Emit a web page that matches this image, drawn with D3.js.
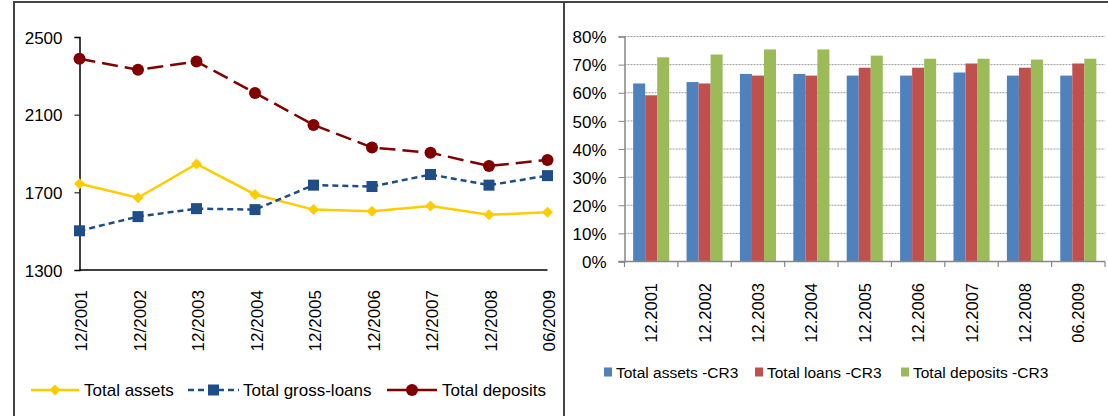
<!DOCTYPE html>
<html>
<head>
<script src="https://d3js.org/d3.v7.min.js"></script>
<style>
  body { margin: 0; background: #fff; }
  svg { display: block; font-family: "Liberation Sans", Arial, sans-serif; }
</style>
</head>
<body>
<svg id="chart" width="1108" height="416"></svg>
<script>
// line chart data (left)
const lineDates = ['12/2001', '12/2002', '12/2003', '12/2004', '12/2005', '12/2006', '12/2007', '12/2008', '06/2009'];
const totalAssets = [1744, 1672, 1846, 1689, 1611, 1602, 1630, 1584, 1597];
const totalGrossLoans = [1502, 1575, 1616, 1611, 1737, 1730, 1792, 1737, 1786];
const totalDeposits = [2388, 2331, 2374, 2212, 2047, 1931, 1904, 1836, 1867];
const lineTicks = [1300, 1700, 2100, 2500];

// bar chart data (right)
const barDates = ['12.2001', '12.2002', '12.2003', '12.2004', '12.2005', '12.2006', '12.2007', '12.2008', '06.2009'];
const assetsCR3 = [63.3, 63.8, 66.7, 66.7, 66.1, 66.1, 67.2, 66.1, 66.1];
const loansCR3 = [59.1, 63.3, 66.1, 66.1, 68.9, 68.9, 70.4, 68.9, 70.4];
const depositsCR3 = [72.6, 73.6, 75.4, 75.4, 73.2, 72.1, 72.1, 71.8, 72.1];
const barTicks = [0, 10, 20, 30, 40, 50, 60, 70, 80];

const svg = d3.select('#chart');

// frames
svg.append('line').attr('x1', 14).attr('x2', 14).attr('y1', 1).attr('y2', 416).attr('stroke', '#444').attr('stroke-width', 2);
svg.append('line').attr('x1', 13).attr('x2', 1108).attr('y1', 2).attr('y2', 2).attr('stroke', '#444').attr('stroke-width', 2);
svg.append('line').attr('x1', 564).attr('x2', 564).attr('y1', 1).attr('y2', 416).attr('stroke', '#444').attr('stroke-width', 2);

// ---------- left: line chart ----------
const lx = d3.scalePoint().domain(lineDates).range([79.5, 547.5]);
const ly = d3.scaleLinear().domain([1300, 2500]).range([270, 37]);

const left = svg.append('g');

left.append('g')
    .attr('transform', 'translate(79.5,0)')
    .call(d3.axisLeft(ly).tickValues(lineTicks).tickSize(5).tickPadding(12).tickFormat(d3.format('d')))
    .call(g => g.select('.domain').attr('stroke', '#000').attr('stroke-width', 1.5))
    .call(g => g.selectAll('.tick line').attr('stroke', '#000'))
    .call(g => g.selectAll('.tick text').attr('fill', '#000').style('font-size', '17px').attr('dy', '0.36em'));

left.append('line').attr('x1', 79.5).attr('x2', 547.5).attr('y1', 270).attr('y2', 270).attr('stroke', '#000').attr('stroke-width', 1.5);

left.selectAll('.xlab')
    .data(lineDates)
    .enter()
    .append('text')
    .attr('transform', d => `translate(${lx(d) + 7.5},290) rotate(-90)`)
    .attr('text-anchor', 'end')
    .style('font-size', '17px')
    .text(d => d);

const lineSeries = [
    { name: 'Total assets', values: totalAssets, color: '#FFCC00', dash: null, legDash: null, marker: 'diamond' },
    { name: 'Total gross-loans', values: totalGrossLoans, color: '#1F4E86', dash: '6,4', legDash: '6,4', marker: 'square' },
    { name: 'Total deposits', values: totalDeposits, color: '#800000', dash: '16,7', legDash: null, marker: 'circle' }
];

function drawMarker(g, type, x, y, color) {
    if (type === 'diamond') {
        g.append('path').attr('d', `M${x},${y - 5.5}L${x + 5.5},${y}L${x},${y + 5.5}L${x - 5.5},${y}Z`).attr('fill', color);
    } else if (type === 'square') {
        g.append('rect').attr('x', x - 5.5).attr('y', y - 5.5).attr('width', 11).attr('height', 11).attr('fill', color);
    } else {
        g.append('circle').attr('cx', x).attr('cy', y).attr('r', 6).attr('fill', color);
    }
}

const line = d3.line().x((d, i) => lx(lineDates[i])).y(d => ly(d));

lineSeries.forEach(s => {
    left.append('path')
        .datum(s.values)
        .attr('d', line)
        .attr('fill', 'none')
        .attr('stroke', s.color)
        .attr('stroke-width', 2.5)
        .attr('stroke-dasharray', s.dash);
    s.values.forEach((v, i) => drawMarker(left, s.marker, lx(lineDates[i]), ly(v), s.color));
});

// left legend
const legPos = [
    { x1: 31, x2: 79, tx: 84 },
    { x1: 188, x2: 239, tx: 243 },
    { x1: 387, x2: 437, tx: 442 }
];
lineSeries.forEach((s, i) => {
    const p = legPos[i];
    left.append('line').attr('x1', p.x1).attr('x2', p.x2).attr('y1', 390).attr('y2', 390)
        .attr('stroke', s.color).attr('stroke-width', 2.5).attr('stroke-dasharray', s.legDash);
    drawMarker(left, s.marker, (p.x1 + p.x2) / 2, 390, s.color);
    left.append('text').attr('x', p.tx).attr('y', 390).attr('dy', '0.36em')
        .style('font-size', '17px').text(s.name);
});

// ---------- right: bar chart ----------
const bx = d3.scaleBand().domain(barDates).range([624.5, 1105]).paddingInner(0).paddingOuter(0);
const inner = d3.scaleBand().domain([0, 1, 2]).range([0, bx.bandwidth()]).paddingInner(0).paddingOuter(0.72);
const by = d3.scaleLinear().domain([0, 80]).range([261.5, 36.5]);

const right = svg.append('g');

// grid
right.selectAll('.grid')
    .data(barTicks.filter(t => t > 0))
    .enter()
    .append('line')
    .attr('x1', 624.5).attr('x2', 1105)
    .attr('y1', d => by(d)).attr('y2', d => by(d))
    .attr('stroke', '#9a9a9a').attr('stroke-width', 1).attr('stroke-dasharray', '2,1');

const barSeries = [
    { name: 'Total assets -CR3', values: assetsCR3, color: '#4F81BD' },
    { name: 'Total loans -CR3', values: loansCR3, color: '#C0504D' },
    { name: 'Total deposits -CR3', values: depositsCR3, color: '#9BBB59' }
];

barSeries.forEach((s, si) => {
    right.selectAll('.bar' + si)
        .data(s.values)
        .enter()
        .append('rect')
        .attr('x', (d, i) => bx(barDates[i]) + inner(si))
        .attr('y', d => by(d))
        .attr('width', inner.bandwidth())
        .attr('height', d => by(0) - by(d))
        .attr('fill', s.color);
});

right.append('g')
    .attr('transform', 'translate(624.5,0)')
    .call(d3.axisLeft(by).tickValues(barTicks).tickSize(6).tickPadding(12).tickFormat(d => d + '%'))
    .call(g => g.select('.domain').attr('stroke', '#868686').attr('stroke-width', 1.5))
    .call(g => g.selectAll('.tick line').attr('stroke', '#868686'))
    .call(g => g.selectAll('.tick text').attr('fill', '#000').style('font-size', '17px').attr('dy', '0.36em'));

right.append('line').attr('x1', 618.5).attr('x2', 1105).attr('y1', 261.5).attr('y2', 261.5).attr('stroke', '#868686').attr('stroke-width', 1.5);
right.selectAll('.xtick')
    .data(barDates.concat(['end']))
    .enter()
    .append('line')
    .attr('x1', (d, i) => 624.5 + i * bx.bandwidth())
    .attr('x2', (d, i) => 624.5 + i * bx.bandwidth())
    .attr('y1', 261.5).attr('y2', 267)
    .attr('stroke', '#868686').attr('stroke-width', 1.2);

right.selectAll('.xlab')
    .data(barDates)
    .enter()
    .append('text')
    .attr('transform', d => `translate(${bx(d) + bx.bandwidth() / 2 + 6},283) rotate(-90)`)
    .attr('text-anchor', 'end')
    .style('font-size', '16.5px')
    .text(d => d);

// right legend
const barLeg = [604, 755, 901];
barSeries.forEach((s, i) => {
    right.append('rect').attr('x', barLeg[i]).attr('y', 367.5).attr('width', 8).attr('height', 9).attr('fill', s.color);
    right.append('text').attr('x', barLeg[i] + 12).attr('y', 372).attr('dy', '0.36em')
        .style('font-size', '15.5px').text(s.name);
});
</script>
</body>
</html>
